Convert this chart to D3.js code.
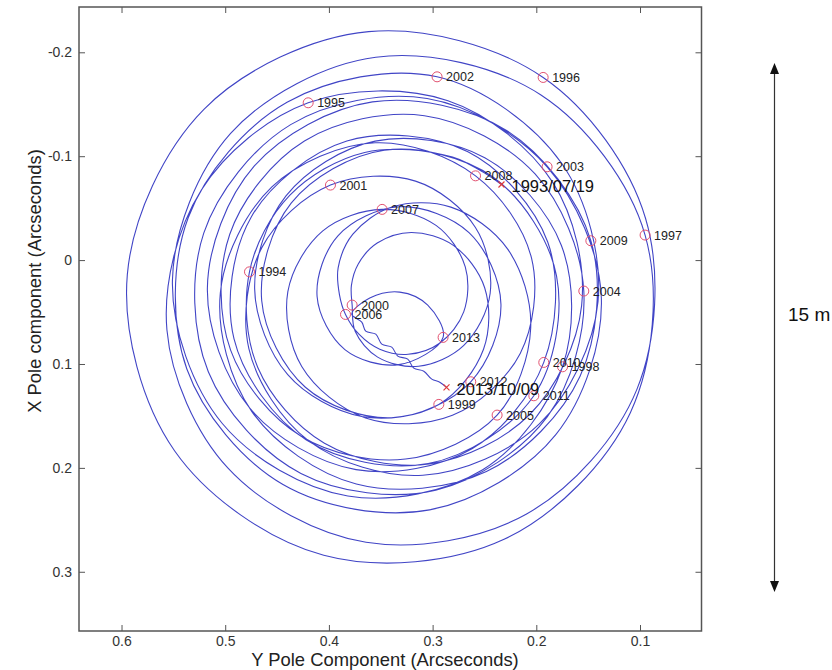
<!DOCTYPE html>
<html>
<head>
<meta charset="utf-8">
<script src="https://cdn.jsdelivr.net/npm/d3@7"></script>
<style>
  body { margin: 0; background: #fff; }
  svg { display: block; }
  text { font-family: "Liberation Sans", Arial, Helvetica, sans-serif; }
</style>
</head>
<body>
<svg id="chart" width="832" height="670"></svg>
<script>
// Tick values (arcseconds)
const yPoleTicks = [0.6, 0.5, 0.4, 0.3, 0.2, 0.1];
const xPoleTicks = [-0.2, -0.1, 0, 0.1, 0.2, 0.3];

// Pole position at the start of each year: [Y pole, X pole]
const years = [1994, 1995, 1996, 1997, 1998, 1999, 2000, 2001, 2002, 2003,
               2004, 2005, 2006, 2007, 2008, 2009, 2010, 2011, 2012, 2013];
const yearPoleY = [0.4766, 0.4200, 0.1934, 0.0951, 0.1747, 0.2940, 0.3776, 0.3985, 0.2957, 0.1896,
                   0.1542, 0.2378, 0.3840, 0.3487, 0.2586, 0.1474, 0.1928, 0.2024, 0.2632, 0.2899];
const yearPoleX = [0.0113, -0.1514, -0.1758, -0.0241, 0.1027, 0.1389, 0.0433, -0.0722, -0.1764, -0.0898,
                   0.0298, 0.1492, 0.0523, -0.0488, -0.0811, -0.0186, 0.0985, 0.1306, 0.1171, 0.0744];

// First and last day of the series
const dateLabels = ["1993/07/19", "2013/10/09"];
const datePoleY = [0.2336, 0.2866];
const datePoleX = [-0.0728, 0.1225];

// Pole path, [Y pole, X pole] in arcseconds
const track1993to1998 = [
  [0.2336, -0.0728], [0.2808, -0.0991], [0.3655, -0.1036], [0.4376, -0.0625],
  [0.4766, 0.0113], [0.4686, 0.1033], [0.4043, 0.1762], [0.3033, 0.1963], [0.2057, 0.1479], [0.1563, 0.0438], [0.1840, -0.0746], [0.2852, -0.1534],
  [0.4200, -0.1514], [0.5230, -0.0675], [0.5562, 0.0673], [0.4973, 0.2003], [0.3642, 0.2716], [0.2098, 0.2446], [0.1030, 0.1244], [0.0947, -0.0403],
  [0.1934, -0.1758], [0.3617, -0.2199], [0.5203, -0.1454], [0.5944, 0.0140], [0.5487, 0.1837], [0.4050, 0.2841], [0.2311, 0.2688], [0.1092, 0.1466],
  [0.0951, -0.0241], [0.1955, -0.1589], [0.3548, -0.1953], [0.4948, -0.1219], [0.5509, 0.0195], [0.5028, 0.1573], [0.3818, 0.2270], [0.2517, 0.2018]
];
const track1998to2003 = [
  [0.1747, 0.1027], [0.1758, -0.0140], [0.2497, -0.0985], [0.3554, -0.1145], [0.4414, -0.0618], [0.4716, 0.0279], [0.4397, 0.1103], [0.3683, 0.1506],
  [0.2940, 0.1389], [0.2509, 0.0858], [0.2498, 0.0266], [0.2800, -0.0142], [0.3205, -0.0266], [0.3534, -0.0164], [0.3717, 0.0037], [0.3783, 0.0244],
  [0.3776, 0.0433], [0.3746, 0.0688], [0.3530, 0.0934], [0.3136, 0.1022], [0.2699, 0.0821], [0.2445, 0.0319], [0.2587, -0.0314], [0.3165, -0.0760],
  [0.3985, -0.0722], [0.4647, -0.0120], [0.4772, 0.0851], [0.4192, 0.1742], [0.3094, 0.2071], [0.1971, 0.1577], [0.1405, 0.0400], [0.1758, -0.0934],
  [0.2957, -0.1764], [0.4404, -0.1519], [0.5357, -0.0408], [0.5370, 0.1048], [0.4443, 0.2160], [0.3029, 0.2404], [0.1812, 0.1680], [0.1373, 0.0360]
];
const track2003to2008 = [
  [0.1896, -0.0898], [0.3053, -0.1555], [0.4369, -0.1304], [0.5207, -0.0259], [0.5163, 0.1075], [0.4270, 0.2053], [0.2970, 0.2215], [0.1893, 0.1506],
  [0.1542, 0.0298], [0.2012, -0.0829], [0.3079, -0.1390], [0.4236, -0.1147], [0.4956, -0.0249], [0.4948, 0.0866], [0.4268, 0.1696], [0.3261, 0.1915],
  [0.2378, 0.1492], [0.2054, 0.0653], [0.2276, -0.0105], [0.2824, -0.0510], [0.3392, -0.0511], [0.3769, -0.0250], [0.3911, 0.0075], [0.3898, 0.0334],
  [0.3840, 0.0523], [0.3708, 0.0716], [0.3510, 0.0858], [0.3236, 0.0907], [0.2929, 0.0798], [0.2700, 0.0498], [0.2685, 0.0065], [0.2967, -0.0334],
  [0.3487, -0.0488], [0.4059, -0.0281], [0.4396, 0.0304], [0.4262, 0.1024], [0.3647, 0.1519], [0.2809, 0.1494], [0.2155, 0.0898], [0.2046, -0.0018]
];
const track2008to2013 = [
  [0.2586, -0.0811], [0.3555, -0.1129], [0.4550, -0.0704], [0.5047, 0.0315], [0.4743, 0.1458], [0.3736, 0.2155], [0.2481, 0.2035], [0.1578, 0.1118],
  [0.1474, -0.0186], [0.2287, -0.1248], [0.3580, -0.1523], [0.4719, -0.0906], [0.5172, 0.0271], [0.4763, 0.1425], [0.3738, 0.2017], [0.2620, 0.1815],
  [0.1928, 0.0985], [0.1890, -0.0174], [0.2660, -0.1043], [0.3827, -0.1146], [0.4750, -0.0413], [0.4915, 0.0759], [0.4221, 0.1729], [0.3043, 0.1959],
  [0.2024, 0.1306], [0.1805, 0.0152], [0.2415, -0.0797], [0.3466, -0.1057], [0.4364, -0.0548], [0.4648, 0.0392], [0.4227, 0.1224], [0.3393, 0.1518],
  [0.2632, 0.1171], [0.2341, 0.0424], [0.2649, -0.0265], [0.3313, -0.0514], [0.3913, -0.0234], [0.4114, 0.0351], [0.3846, 0.0862], [0.3327, 0.1006]
];
const track2013 = [
  [0.2899, 0.0744], [0.3047, 0.0434], [0.3317, 0.0308], [0.3606, 0.0366], [0.3780, 0.0520],
  [0.3683, 0.0597], [0.3645, 0.0684], [0.3548, 0.0713], [0.3490, 0.0809], [0.3394, 0.0838],
  [0.3336, 0.0924], [0.3240, 0.0953], [0.3182, 0.1040], [0.3085, 0.1069], [0.3008, 0.1146],
  [0.2931, 0.1175], [0.2866, 0.1225]
];

const track = [].concat(track1993to1998, track1998to2003, track2003to2008, track2008to2013, track2013);

const svg = d3.select("#chart");
const frame = { left: 79, top: 7, right: 701.5, bottom: 631 };

// Y pole runs right-to-left, X pole runs top-to-bottom
const sx = d3.scaleLinear().domain([0.641, 0.0407]).range([frame.left, frame.right]);
const sy = d3.scaleLinear().domain([-0.2436, 0.357]).range([frame.top, frame.bottom]);

svg.append("defs").append("clipPath").attr("id", "plot-clip")
  .append("rect")
  .attr("x", frame.left).attr("y", frame.top)
  .attr("width", frame.right - frame.left).attr("height", frame.bottom - frame.top);

// Pole path
const line = d3.line()
  .x(d => sx(d[0]))
  .y(d => sy(d[1]))
  .curve(d3.curveCatmullRom.alpha(0.5));

svg.append("path")
  .datum(track)
  .attr("clip-path", "url(#plot-clip)")
  .attr("fill", "none")
  .attr("stroke", "#4145c6")
  .attr("stroke-width", 1.1)
  .attr("stroke-linejoin", "round")
  .attr("d", line);

// Axes with inward ticks on all four sides
const fmt = d => String(d);
const tickStyle = g => {
  g.select(".domain").remove();
  g.selectAll(".tick line").attr("stroke", "#555").attr("stroke-width", 1);
  g.selectAll(".tick text").attr("fill", "#333").attr("font-size", 14)
    .style("font-family", '"Liberation Sans", Arial, Helvetica, sans-serif');
};

svg.append("g").attr("transform", `translate(0,${frame.bottom})`)
  .call(d3.axisBottom(sx).tickValues(yPoleTicks).tickSize(-6).tickPadding(5).tickFormat(fmt))
  .call(tickStyle);
svg.append("g").attr("transform", `translate(0,${frame.top})`)
  .call(d3.axisTop(sx).tickValues(yPoleTicks).tickSize(-6).tickFormat(""))
  .call(tickStyle);
svg.append("g").attr("transform", `translate(${frame.left},0)`)
  .call(d3.axisLeft(sy).tickValues(xPoleTicks).tickSize(-6).tickPadding(7).tickFormat(fmt))
  .call(tickStyle);
svg.append("g").attr("transform", `translate(${frame.right},0)`)
  .call(d3.axisRight(sy).tickValues(xPoleTicks).tickSize(-6).tickFormat(""))
  .call(tickStyle);

svg.append("rect")
  .attr("x", frame.left).attr("y", frame.top)
  .attr("width", frame.right - frame.left).attr("height", frame.bottom - frame.top)
  .attr("fill", "none").attr("stroke", "#555").attr("stroke-width", 1.5);

// Yearly markers
const yearData = years.map((yr, i) => ({ label: String(yr), py: yearPoleY[i], px: yearPoleX[i] }));
const yearG = svg.append("g");
yearG.selectAll("circle").data(yearData).join("circle")
  .attr("cx", d => sx(d.py)).attr("cy", d => sy(d.px)).attr("r", 5)
  .attr("fill", "none").attr("stroke", "#e2506f").attr("stroke-width", 1);
yearG.selectAll("text").data(yearData).join("text")
  .attr("x", d => sx(d.py) + 9).attr("y", d => sy(d.px))
  .attr("dy", "0.36em")
  .attr("font-size", 12.5).attr("fill", "#222")
  .text(d => d.label);

// Start and end dates
const dateData = dateLabels.map((t, i) => ({ label: t, py: datePoleY[i], px: datePoleX[i] }));
const dateG = svg.append("g");
dateG.selectAll("path").data(dateData).join("path")
  .attr("transform", d => `translate(${sx(d.py)},${sy(d.px)})`)
  .attr("d", "M-3,-3L3,3M-3,3L3,-3")
  .attr("stroke", "#e03a3a").attr("stroke-width", 1.2).attr("fill", "none");
dateG.selectAll("text").data(dateData).join("text")
  .attr("x", d => sx(d.py) + 10).attr("y", d => sy(d.px) + 2)
  .attr("dy", "0.36em")
  .attr("font-size", 16.5).attr("fill", "#111")
  .text(d => d.label);

// Axis titles
svg.append("text")
  .attr("x", 385).attr("y", 666)
  .attr("text-anchor", "middle").attr("font-size", 18.4).attr("fill", "#222")
  .text("Y Pole Component (Arcseconds)");
svg.append("text")
  .attr("transform", "translate(41,281) rotate(-90)")
  .attr("text-anchor", "middle").attr("font-size", 18.4).attr("fill", "#222")
  .text("X Pole component (Arcseconds)");

// Scale bar on the right
const barX = 774.5, barTop = 63, barBottom = 592;
svg.append("line")
  .attr("x1", barX).attr("x2", barX).attr("y1", barTop + 8).attr("y2", barBottom - 8)
  .attr("stroke", "#333").attr("stroke-width", 1.2);
svg.append("path")
  .attr("d", `M${barX},${barTop}L${barX - 4.5},${barTop + 11}L${barX + 4.5},${barTop + 11}Z`)
  .attr("fill", "#111");
svg.append("path")
  .attr("d", `M${barX},${barBottom}L${barX - 4.5},${barBottom - 11}L${barX + 4.5},${barBottom - 11}Z`)
  .attr("fill", "#111");
svg.append("text")
  .attr("x", 788).attr("y", 321)
  .attr("font-size", 19).attr("fill", "#111")
  .text("15 m");
</script>
</body>
</html>
